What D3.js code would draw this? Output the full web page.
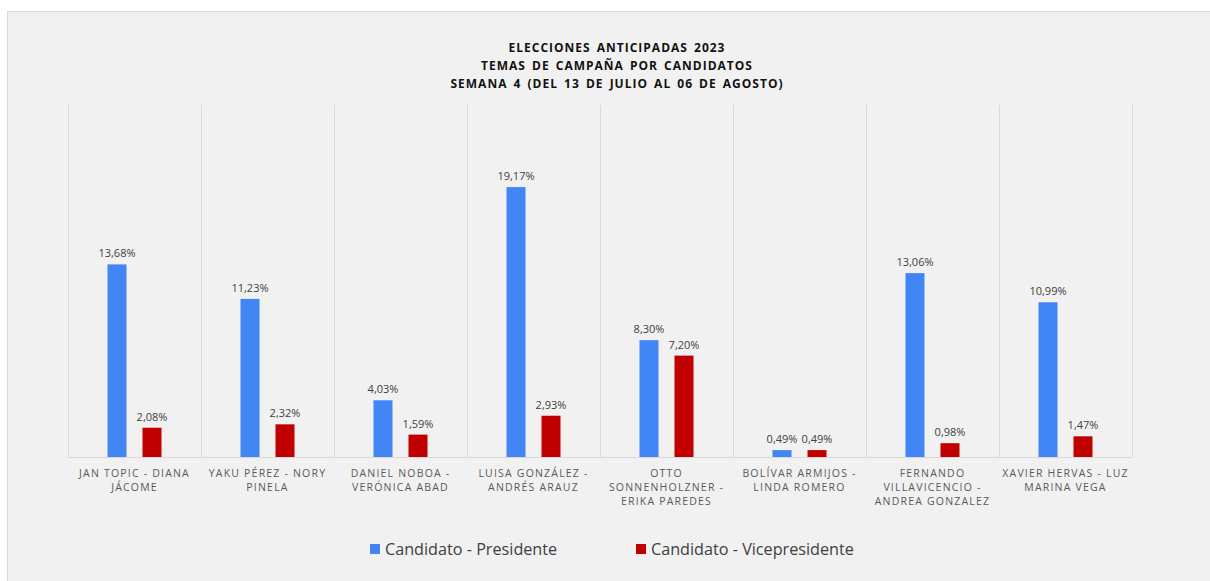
<!DOCTYPE html>
<html><head><meta charset="utf-8">
<script src="https://cdn.jsdelivr.net/npm/d3@7"></script>
<style>body{margin:0;background:#fff;}svg{display:block;}</style>
</head><body>
<script>
const categories = [
  ["JAN TOPIC - DIANA","JÁCOME"],
  ["YAKU PÉREZ - NORY","PINELA"],
  ["DANIEL NOBOA -","VERÓNICA ABAD"],
  ["LUISA GONZÁLEZ -","ANDRÉS ARAUZ"],
  ["OTTO","SONNENHOLZNER -","ERIKA PAREDES"],
  ["BOLÍVAR ARMIJOS -","LINDA ROMERO"],
  ["FERNANDO","VILLAVICENCIO -","ANDREA GONZALEZ"],
  ["XAVIER HERVAS - LUZ","MARINA VEGA"]
];
const presidente = [13.68, 11.23, 4.03, 19.17, 8.30, 0.49, 13.06, 10.99];
const vicepresidente = [2.08, 2.32, 1.59, 2.93, 7.20, 0.49, 0.98, 1.47];
const seriesNames = ["Candidato - Presidente", "Candidato - Vicepresidente"];
const seriesColors = ["#4285f4", "#c00000"];
const titleLines = ["ELECCIONES ANTICIPADAS 2023","TEMAS DE CAMPAÑA POR CANDIDATOS","SEMANA 4 (DEL 13 DE JULIO AL 06 DE AGOSTO)"];

const W = 1210, H = 581;
const svg = d3.select("body").append("svg").attr("width", W).attr("height", H);
svg.append("rect").attr("x",7.5).attr("y",11.5).attr("width",1210).attr("height",600)
  .attr("fill","#f1f1f1").attr("stroke","#d9d9d9");

const font = "'Open Sans', 'Liberation Sans', sans-serif";
const m = {left:68, right:1132, top:105, bottom:457};
const idx = d3.range(categories.length);
const x = d3.scaleBand().domain(idx).range([m.left, m.right]).padding(0);
const y = d3.scaleLinear().domain([0,25]).range([m.bottom, m.top]);

// vertical gridlines at category boundaries
const bounds = idx.map(i => x(i)).concat([m.right]);
svg.append("g").selectAll("line").data(bounds).join("line")
  .attr("x1",d=>d+0.5).attr("x2",d=>d+0.5).attr("y1",m.top).attr("y2",m.bottom)
  .attr("stroke","#d9d9d9").attr("stroke-width",1);
svg.append("line").attr("x1",m.left).attr("x2",m.right).attr("y1",m.bottom+0.5).attr("y2",m.bottom+0.5)
  .attr("stroke","#d9d9d9");

// title
svg.append("text").attr("x",617).attr("y",52).attr("text-anchor","middle")
  .attr("font-family",font).attr("font-weight","bold").attr("font-size",12)
  .attr("letter-spacing","1px").attr("word-spacing","2px").attr("fill","#111")
  .selectAll("tspan").data(titleLines).join("tspan")
  .attr("x",617).attr("dy",(d,i)=>i?18:0).text(d=>d);

const barW = 19, off = 17.5;
const series = [presidente, vicepresidente];
series.forEach((vals, s) => {
  const g = svg.append("g");
  g.selectAll("rect").data(vals).join("rect")
    .attr("x",(d,i)=>x(i)+x.bandwidth()/2 + (s?off:-off) - barW/2)
    .attr("y",d=>y(d)).attr("width",barW).attr("height",d=>m.bottom-y(d))
    .attr("fill",seriesColors[s]);
  g.selectAll("text").data(vals).join("text")
    .attr("x",(d,i)=>x(i)+x.bandwidth()/2 + (s?off:-off))
    .attr("y",d=>y(d)-7).attr("text-anchor","middle")
    .attr("font-family",font).attr("font-size",11).attr("fill","#404040")
    .text(d=>d.toFixed(2).replace(".",",")+"%");
});

// category labels
svg.append("g").selectAll("text").data(categories).join("text")
  .attr("x",(d,i)=>x(i)+x.bandwidth()/2).attr("y",477)
  .attr("text-anchor","middle").attr("font-family",font).attr("font-size",10.5)
  .attr("letter-spacing","1.2px").attr("fill","#595959")
  .each(function(d,i){
    d3.select(this).selectAll("tspan").data(d).join("tspan")
      .attr("x",x(i)+x.bandwidth()/2).attr("dy",(t,j)=>j?14:0).text(t=>t);
  });

// legend
const legX = [370, 636];
seriesNames.forEach((n,s)=>{
  svg.append("rect").attr("x",legX[s]).attr("y",544).attr("width",10).attr("height",10).attr("fill",seriesColors[s]);
  svg.append("text").attr("x",legX[s]+15).attr("y",555).attr("font-family",font).attr("font-size",16.2)
    .attr("fill","#404040").text(n);
});
</script>
</body></html>
